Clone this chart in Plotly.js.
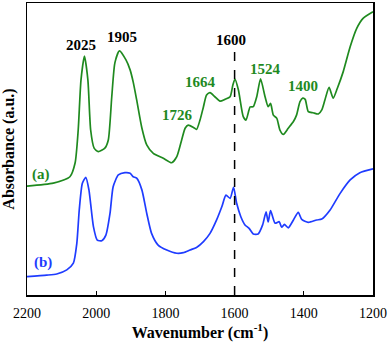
<!DOCTYPE html>
<html>
<head>
<meta charset="utf-8">
<script src="https://cdn.plot.ly/plotly-3.0.1.min.js"></script>
<style>
  html, body { margin: 0; padding: 0; background: #fff; }
  #chart { width: 389px; height: 344px; }
</style>
</head>
<body>
<div id="chart"></div>
<script>
// spectrum (a), green
var wnA = [2200, 2124, 2076, 2061, 2052, 2044, 2034, 2024, 2016, 2006, 1994, 1975, 1965, 1955, 1946, 1933,
  1914, 1902, 1893, 1883, 1868, 1854, 1835, 1806, 1782, 1767, 1753, 1743, 1734, 1719, 1710, 1700, 1690,
  1681, 1671, 1657, 1642, 1628, 1613, 1605, 1599, 1589, 1575, 1567, 1555, 1546, 1536, 1525, 1512, 1503,
  1496, 1488, 1478, 1469, 1459, 1445, 1430, 1421, 1411, 1403, 1396, 1387, 1373, 1358, 1348, 1339, 1327,
  1315, 1303, 1286, 1266, 1247, 1228, 1200];
var absA = [0.373, 0.383, 0.405, 0.452, 0.565, 0.736, 0.818, 0.736, 0.565, 0.503, 0.491, 0.503, 0.531, 0.679, 0.795, 0.836,
  0.805, 0.771, 0.729, 0.668, 0.572, 0.514, 0.485, 0.468, 0.453, 0.474, 0.531, 0.571, 0.582, 0.574, 0.567, 0.599, 0.645,
  0.685, 0.693, 0.679, 0.664, 0.670, 0.679, 0.719, 0.739, 0.702, 0.611, 0.599, 0.644, 0.645, 0.679, 0.740, 0.679, 0.645,
  0.656, 0.616, 0.605, 0.565, 0.550, 0.571, 0.594, 0.616, 0.662, 0.674, 0.670, 0.628, 0.624, 0.620, 0.634, 0.668, 0.711,
  0.674, 0.708, 0.765, 0.850, 0.913, 0.948, 0.970];

// spectrum (b), blue
var wnB = [2200, 2143, 2114, 2085, 2066, 2056, 2049, 2040, 2030, 2021, 2008, 1997, 1984, 1972, 1960, 1951, 1936,
  1917, 1902, 1893, 1883, 1868, 1854, 1840, 1821, 1796, 1767, 1748, 1729, 1710, 1690, 1671, 1652, 1637,
  1625, 1613, 1603, 1594, 1582, 1570, 1558, 1546, 1532, 1519, 1509, 1503, 1496, 1483, 1471, 1464, 1456,
  1445, 1430, 1416, 1406, 1387, 1363, 1348, 1324, 1295, 1266, 1238, 1200];
var absB = [0.063, 0.068, 0.072, 0.086, 0.109, 0.177, 0.291, 0.383, 0.403, 0.360, 0.234, 0.188, 0.186, 0.205, 0.280, 0.371, 0.411,
  0.419, 0.417, 0.405, 0.400, 0.360, 0.280, 0.211, 0.171, 0.154, 0.143, 0.145, 0.154, 0.163, 0.183, 0.211, 0.257, 0.302,
  0.342, 0.331, 0.369, 0.314, 0.268, 0.240, 0.228, 0.209, 0.209, 0.240, 0.285, 0.250, 0.289, 0.246, 0.251, 0.232, 0.242,
  0.230, 0.257, 0.283, 0.259, 0.249, 0.257, 0.260, 0.291, 0.348, 0.394, 0.419, 0.432];

// peak labels
var peakText = ['2025', '1905', '1600', '1726', '1664', '1524', '1400'];
var peakX = [2044, 1925, 1609, 1764, 1700, 1511, 1401];
var peakY = [0.856, 0.884, 0.873, 0.616, 0.729, 0.774, 0.716];
var peakColor = ['black', 'black', 'black', '#1f8a1f', '#1f8a1f', '#1f8a1f', '#1f8a1f'];

var green = '#1f8a1f';
var blue = '#1f3cff';
var serif = "'Liberation Serif', 'Times New Roman', serif";

var traceA = {
  type: 'scatter', mode: 'lines', x: wnA, y: absA,
  line: {color: green, width: 1.7, shape: 'spline', smoothing: 0.6}
};
var traceB = {
  type: 'scatter', mode: 'lines', x: wnB, y: absB,
  line: {color: blue, width: 1.7, shape: 'spline', smoothing: 0.6}
};

var annotations = [];
for (var i = 0; i < peakText.length; i++) {
  annotations.push({
    x: peakX[i], y: peakY[i], xref: 'x', yref: 'y', showarrow: false,
    text: '<b>' + peakText[i] + '</b>',
    font: {family: serif, size: 15, color: peakColor[i]}
  });
}
annotations.push({x: 2160, y: 0.411, xref: 'x', yref: 'y', showarrow: false,
  text: '<b>(a)</b>', font: {family: serif, size: 15, color: green}});
annotations.push({x: 2154, y: 0.113, xref: 'x', yref: 'y', showarrow: false,
  text: '<b>(b)</b>', font: {family: serif, size: 15, color: blue}});

var layout = {
  width: 389, height: 344,
  margin: {l: 27, r: 16, t: 3, b: 49},
  paper_bgcolor: 'white', plot_bgcolor: 'white',
  showlegend: false,
  font: {family: serif, color: 'black'},
  xaxis: {
    range: [2200, 1200], dtick: 200, tick0: 1200,
    ticks: 'inside', ticklen: 4, tickwidth: 1.2, tickcolor: 'black',
    ticklabelstandoff: 5,
    showline: true, linecolor: 'black', linewidth: 1.5, mirror: true,
    showgrid: false, zeroline: false,
    tickfont: {family: serif, size: 14, color: 'black'},
    title: {text: '<b>Wavenumber (cm<sup>-1</sup>)</b>', font: {family: serif, size: 16}, standoff: 5}
  },
  yaxis: {
    range: [0, 1],
    showticklabels: false, ticks: '',
    showline: true, linecolor: 'black', linewidth: 1.5, mirror: true,
    showgrid: false, zeroline: false,
    title: {text: '<b>Absorbance (a.u.)</b>', font: {family: serif, size: 16}, standoff: 8}
  },
  shapes: [{
    type: 'line', xref: 'x', yref: 'y', x0: 1600, x1: 1600, y0: 0, y1: 0.839,
    line: {color: 'black', width: 1.5, dash: 'dash'}
  }],
  annotations: annotations
};

Plotly.newPlot('chart', [traceA, traceB], layout, {displayModeBar: false, staticPlot: true});
</script>
</body>
</html>
